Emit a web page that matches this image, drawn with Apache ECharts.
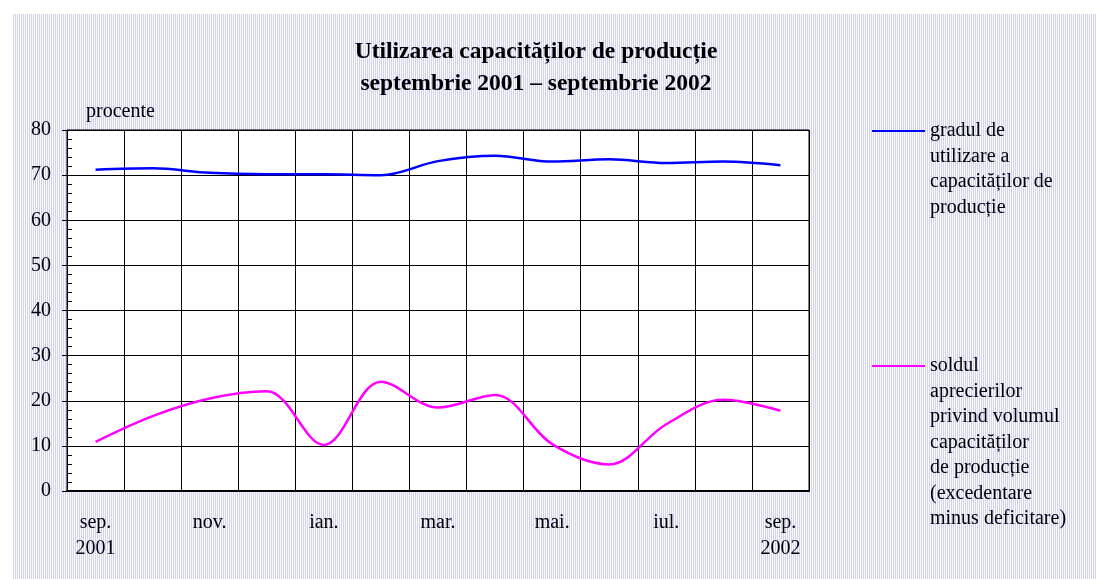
<!DOCTYPE html>
<html>
<head>
<meta charset="utf-8">
<title>Utilizarea capacităților de producție</title>
<script src="https://cdn.jsdelivr.net/npm/echarts@6/dist/echarts.min.js"></script>
<style>
  html, body { margin: 0; padding: 0; background: #fff; }
  #bg {
    position: absolute; left: 13px; top: 14px; width: 1083px; height: 565px;
    background-color: #e8e8fa;
    background-image: repeating-linear-gradient(90deg, #d2d2f6 0 1px, #fafaff 1px 2px);
  }
  #charts { position: absolute; left: 0; top: 0; width: 1096px; height: 579px; }
</style>
</head>
<body>
<div id="bg"></div>
<div id="charts"></div>
<script>
// luni (etichete axa X)
var luni = ['sep.\n2001', 'oct.', 'nov.', 'dec.', 'ian.', 'feb.', 'mar.',
            'apr.', 'mai.', 'iun.', 'iul.', 'aug.', 'sep.\n2002'];

// gradul de utilizare a capacitatilor (%)
var gradUtilizare = [71.2, 71.5, 70.5, 70.2, 70.2, 70.0, 73.1, 74.3, 73.0, 73.5, 72.7, 73.0, 72.2];

// soldul aprecierilor privind volumul capacitatilor
var soldAprecieri = [10.9, 16.6, 20.5, 22.1, 10.2, 24.2, 18.5, 21.3, 10.4, 5.9, 14.8, 20.2, 17.8];

var numeGrad = 'gradul de\nutilizare a\ncapacităților de\nproducție';
var numeSold = 'soldul\naprecierilor\nprivind volumul\ncapacităților\nde producție\n(excedentare\nminus deficitare)';

var font = 'Liberation Serif, Times New Roman, serif';
var lh = 25.5;

// textul legendei e centrat pe linie: adaugam randuri goale deasupra
function legendaSus(name) {
    var n = name.split('\n').length;
    return new Array(n).join('\n') + name;
}

var myChart = echarts.init(document.getElementById('charts'));

var option = {
    backgroundColor: 'transparent',
    animation: false,
    title: {
        text: 'Utilizarea capacităților de producție\nseptembrie 2001 – septembrie 2002',
        left: 531,
        textAlign: 'center',
        top: 31,
        textStyle: {
            fontFamily: font,
            fontSize: 23.5,
            fontWeight: 'bold',
            color: '#000',
            lineHeight: 32
        }
    },
    legend: [{
        data: [numeGrad],
        formatter: legendaSus,
        left: 872,
        top: 131 - 7 * lh / 2,
        padding: 0,
        icon: 'rect',
        itemWidth: 53,
        itemHeight: 2,
        textStyle: { fontFamily: font, fontSize: 20, color: '#000', lineHeight: lh }
    }, {
        data: [numeSold],
        formatter: legendaSus,
        left: 872,
        top: 366 - 13 * lh / 2,
        padding: 0,
        icon: 'rect',
        itemWidth: 53,
        itemHeight: 2,
        textStyle: { fontFamily: font, fontSize: 20, color: '#000', lineHeight: lh }
    }],
    grid: {
        left: 67,
        right: 287,
        top: 130,
        bottom: 88,
        show: true,
        backgroundColor: '#fff',
        borderColor: '#000',
        borderWidth: 1
    },
    xAxis: {
        type: 'category',
        data: luni,
        boundaryGap: true,
        axisLine: { lineStyle: { color: '#000', width: 2 } },
        axisTick: { show: false },
        splitLine: { show: true, interval: 0, lineStyle: { color: '#000', width: 1 } },
        axisLabel: {
            interval: 1,
            margin: 19,
            fontFamily: font,
            fontSize: 20,
            lineHeight: 26,
            color: '#000'
        }
    },
    yAxis: [{
        type: 'value',
        min: 0,
        max: 80,
        interval: 10,
        name: 'procente',
        nameLocation: 'end',
        nameGap: 18,
        nameTextStyle: {
            fontFamily: font, fontSize: 20, color: '#000',
            align: 'left', verticalAlign: 'middle', padding: [0, 0, 0, 19]
        },
        axisLine: { show: true, lineStyle: { color: '#000' } },
        axisTick: { show: true, length: 5, lineStyle: { color: '#000' } },
        splitLine: { show: true, lineStyle: { color: '#000', width: 1 } },
        axisLabel: { margin: 16, fontFamily: font, fontSize: 20, color: '#000' }
    }, {
        // liniute interioare (minor ticks)
        type: 'value',
        position: 'left',
        min: 0,
        max: 80,
        interval: 10,
        axisLine: { show: false },
        axisLabel: { show: false },
        splitLine: { show: false },
        axisTick: { show: true, inside: true, length: 5, lineStyle: { color: '#000' } },
        minorTick: { show: true, splitNumber: 5, length: 5, lineStyle: { color: '#000' } }
    }],
    series: [{
        name: numeGrad,
        type: 'line',
        data: gradUtilizare,
        smooth: 0.35,
        showSymbol: false,
        color: '#0000ff',
        lineStyle: { color: '#0000ff', width: 2.5 }
    }, {
        name: numeSold,
        type: 'line',
        data: soldAprecieri,
        smooth: 0.35,
        showSymbol: false,
        color: '#ff00ff',
        lineStyle: { color: '#ff00ff', width: 2.5 }
    }]
};

myChart.setOption(option);
</script>
</body>
</html>
